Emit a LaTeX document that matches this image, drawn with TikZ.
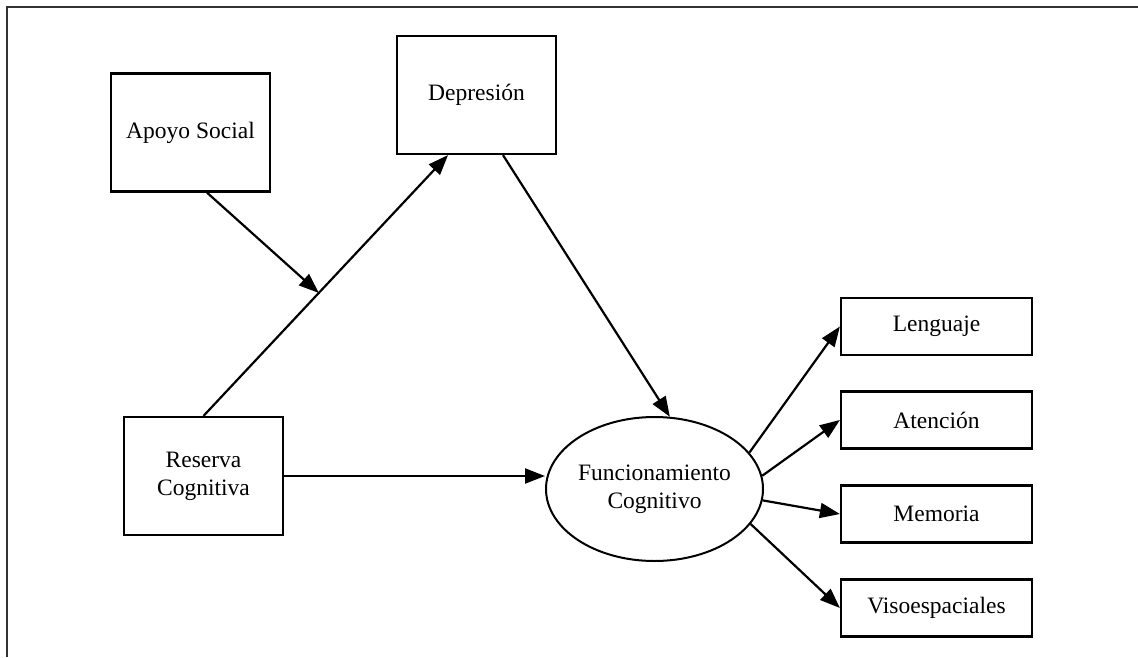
\documentclass[tikz,border=0pt]{standalone}
\usepackage{fontspec}
\setmainfont{Liberation Serif}
\usetikzlibrary{arrows.meta,shapes.geometric}
\begin{document}
\begin{tikzpicture}[x=1pt,y=-1pt,
  every node/.style={font=\fontsize{23.5}{28}\selectfont, align=center, inner sep=0pt},
  box/.style={draw, line width=2.2pt, minimum width=159pt, minimum height=118pt},
  smallbox/.style={draw, line width=2.2pt, minimum width=191pt, minimum height=57pt},
  oval/.style={draw, ellipse, line width=2pt, minimum width=217pt, minimum height=144pt},
  conn/.style={line width=2.2pt, -{Triangle[length=20pt,width=15pt]}}]
\useasboundingbox (0,0) rectangle (1138,657);
\draw[line width=2.4pt, black!80] (7,657) -- (7,7) -- (1138,7);

\node[box] (apoyo) at (190.5,132.5) {Apoyo Social};
\node[box] (depresion) at (476.5,95) {Depresión};
\node[box] (reserva) at (203.5,476) {Reserva\\Cognitiva};
\node[oval] (func) at (654.5,489) {Funcionamiento\\Cognitivo};
\node[smallbox] (leng) at (936.5,326.5) {Lenguaje};
\node[smallbox] (aten) at (936.5,420) {Atención};
\node[smallbox] (mem) at (936.5,514) {Memoria};
\node[smallbox] (viso) at (936.5,608) {Visoespaciales};

\draw[conn] (reserva.north) -- ([xshift=-28.5pt]depresion.south) coordinate[pos=0.4715] (m);
\draw[conn] ([xshift=16.5pt]apoyo.south) -- (m);
\draw[conn] ([xshift=26.5pt]depresion.south) -- (func.78);
\draw[conn] (reserva.east) -- (reserva.east -| func.west);
\draw[conn] (func.21) -- (leng.west);
\draw[conn] (func.7) -- (aten.west);
\draw[conn] (func.-6) -- (mem.west);
\draw[conn] (func.-20) -- (viso.west);
\end{tikzpicture}
\end{document}
